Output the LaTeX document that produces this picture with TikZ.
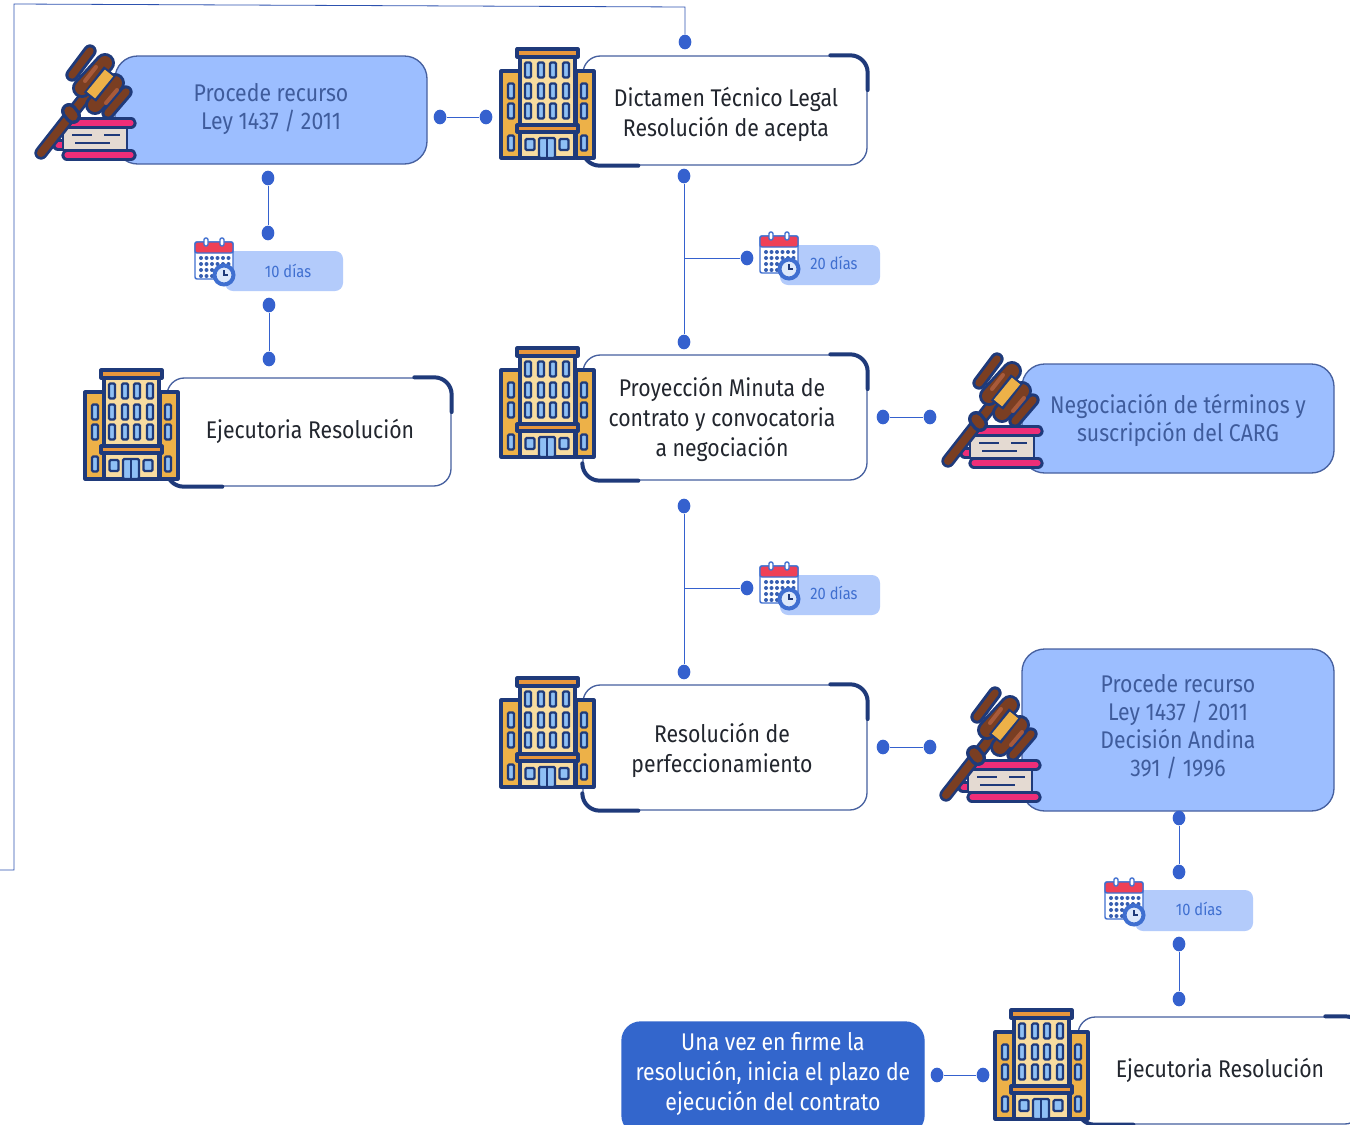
\documentclass[tikz,border=0pt]{standalone}
\usepackage{fontspec}
\usetikzlibrary{shapes.geometric}
\setmainfont[FakeStretch=0.88]{Fira Sans}
\definecolor{navy}{HTML}{1F3A7A}
\definecolor{edge}{HTML}{46609F}
\definecolor{lblue}{HTML}{9CBEFF}
\definecolor{pill}{HTML}{B3CBFB}
\definecolor{dot}{HTML}{3561CE}
\definecolor{dark}{HTML}{3366CC}
\definecolor{gold}{HTML}{EDB148}
\definecolor{cream}{HTML}{F8DCA0}
\definecolor{orng}{HTML}{E8963C}
\definecolor{win}{HTML}{8FC0F5}
\definecolor{brown}{HTML}{7A3E22}
\definecolor{brownl}{HTML}{A85A3A}
\definecolor{pink}{HTML}{EE2E78}
\definecolor{paper}{HTML}{E4DAD2}
\definecolor{calred}{HTML}{EF4056}
\definecolor{calblue}{HTML}{3F6FD0}
\definecolor{clockface}{HTML}{DCE8FB}
\definecolor{ink}{HTML}{22262E}
\definecolor{softink}{HTML}{3F5C9C}
\newcommand{\boxn}[8]{%
  \pgfmathsetmacro{\bxw}{(#5-#3)*0.75}%
  \pgfmathsetmacro{\bxh}{(#6-#4)*0.75}%
  \node[#1,minimum width=\bxw pt,minimum height=\bxh pt] (#2) at ({(#3+#5)/2},{(#4+#6)/2}) {};
  \node[#1,draw=none,fill=none,anchor=center] (#2t) at #7 {#8};
}
\newcommand{\markcorners}[1]{%
  \draw[accentline] ([xshift=-28pt]#1.north east) -- ([xshift=-13pt]#1.north east) arc[start angle=90,end angle=0,radius=13pt] -- ([yshift=-26pt]#1.north east);
  \draw[accentline] ([yshift=13pt]#1.south west) arc[start angle=180,end angle=270,radius=13pt] -- ([xshift=42pt]#1.south west);
}
\tikzset{
  x=0.75pt,y=-0.75pt,
  bodytext/.style={font=\fontsize{18.1}{22.5}\selectfont,align=center,inner sep=0pt,text=ink},
  whitebox/.style={bodytext,draw=edge,line width=1pt,fill=white,rounded corners=13pt},
  bluebox/.style={bodytext,font=\fontsize{18.1}{21}\selectfont,text=softink,draw=edge,line width=1pt,fill=lblue,rounded corners=17pt},
  darkbox/.style={bodytext,text=white,draw=dark,line width=1pt,fill=dark,rounded corners=14pt},
  pillbox/.style={font=\fontsize{12.5}{15}\selectfont,text=calblue,fill=pill,rounded corners=6pt,inner sep=0pt},
  accentline/.style={draw=navy,line width=3pt,line cap=round},
  dotn/.style={ellipse,fill=dot,inner sep=0pt,minimum width=9.5pt,minimum height=11pt},
  conn/.style={draw=dot,line width=0.7pt},
  thinline/.style={draw=dot!85!black,line width=0.6pt},
  winb/.style={draw=navy,line width=1.7pt,fill=win,rounded corners=1pt},
  bldg/.style={draw=navy,line width=2.4pt,line join=round},
  pics/edificio/.style={code={
    \draw[bldg,fill=gold] (1,23) rectangle (20,110);
    \draw[bldg,fill=gold] (76,23) rectangle (94,110);
    \draw[bldg,fill=cream] (20,9) rectangle (75,110);
    \draw[bldg,fill=orng] (17,1) rectangle (78,9);
    \draw[bldg,fill=orng] (17,77) rectangle (78,84);
    \foreach \cx in {28,41,53,66}{\foreach \cy in {22,43,63}{
      \draw[winb] (\cx-3,\cy-7.5) rectangle (\cx+3,\cy+7.5);}}
    \foreach \cx in {11,84}{\foreach \cy in {43,63,95}{
      \draw[winb] (\cx-3,\cy-7.5) rectangle (\cx+3,\cy+7.5);}}
    \foreach \cx in {30,64}{\draw[winb] (\cx-4.5,91) rectangle (\cx+4.5,102);}
    \draw[winb] (39,90) rectangle (55,110);
    \draw[navy,line width=1pt] (47,90) -- (47,110);
  }},
  pics/mazo/.style={code={
    \draw[navy,line width=9pt,line cap=round] (58,145) -- (62,145);
    \draw[pink,line width=4pt,line cap=round] (58,145) -- (62,145);
    \draw[navy,line width=2.2pt,fill=paper] (63,127) rectangle (127,150);
    \draw[navy,line width=2pt] (72,135) -- (92,135) (104,135) -- (120,135) (75,143) -- (110,143);
    \draw[navy,line width=8.5pt,line cap=round] (65,123) -- (131,123);
    \draw[pink,line width=3.8pt,line cap=round] (65,123) -- (131,123);
    \draw[navy,line width=8.5pt,line cap=round] (67,155) -- (131,155);
    \draw[pink,line width=3.8pt,line cap=round] (67,155) -- (131,155);
    \draw[navy,line width=10pt,line cap=round] (41,153) -- (88,93);
    \draw[brown,line width=6pt,line cap=round] (41,153) -- (88,93);
    \draw[navy,line width=12pt,line cap=round] (69,111) -- (73,116);
    \draw[brown,line width=7pt,line cap=round] (69,111) -- (73,116);
    \foreach \ax/\ay/\bx/\by in {90/51/72/75, 126/92/108/113}{
      \draw[navy,line width=10pt,line cap=round] (\ax,\ay) -- (\bx,\by);
      \draw[brown,line width=5.5pt,line cap=round] (\ax,\ay) -- (\bx,\by);}
    \foreach \ax/\ay/\bx/\by in {105/63/82/88, 115/83/95/105}{
      \draw[navy,line width=15pt,line cap=round] (\ax,\ay) -- (\bx,\by);
      \draw[brown,line width=10.5pt,line cap=round] (\ax,\ay) -- (\bx,\by);}
    \draw[brownl,line width=3pt,line cap=round] (96,67) -- (85,81);
    \draw[brownl,line width=3pt,line cap=round] (117,90) -- (106,103);
    \draw[navy,line width=11.5pt] (110,71) -- (90,97);
    \draw[gold,line width=8pt] (109,73) -- (91,95);
  }},
  pics/calendario/.style={code={
    \draw[calblue,line width=1.1pt,fill=white,rounded corners=1.5pt] (0,4) rectangle (38,41);
    \draw[calblue,line width=1.1pt,fill=calred,rounded corners=1.5pt] (0,4) rectangle (38,15);
    \foreach \cx in {11,27}{\draw[calblue,line width=1pt,fill=white,rounded corners=1pt] (\cx-2,0) rectangle (\cx+2,8);}
    \foreach \cx in {6,11.5,17,22.5,28,33.5}{\foreach \cy in {20,26,32,38}{
      \fill[calblue!85!black] (\cx,\cy) circle[radius=2];}}
    \draw[calblue,line width=3pt,fill=clockface] (29,37) circle[radius=9.5];
    \draw[navy,line width=0.9pt] (29,32) -- (29,37) -- (33,37);
  }},
}
\begin{document}
\begin{tikzpicture}
\clip (0,0) rectangle (1350,1125);
\boxn{bluebox}{b1}{115}{56}{427}{164}{(271,109.5)}{Procede recurso\\Ley 1437 / 2011}
\boxn{whitebox}{w1}{583}{56}{867}{165}{(726,114.5)}{Dictamen Técnico Legal\\Resolución de acepta}
\boxn{whitebox}{w2}{167}{378}{451}{486}{(310,431)}{Ejecutoria Resolución}
\boxn{whitebox}{w3}{583}{355}{867}{480}{(722,419.5)}{Proyección Minuta de\\contrato y convocatoria\\a negociación}
\boxn{bluebox}{b2}{1022}{364}{1334}{473}{(1178,420.5)}{Negociación de términos y\\suscripción del CARG}
\boxn{whitebox}{w4}{583}{685}{867}{810}{(722,750)}{Resolución de\\perfeccionamiento}
\boxn{bluebox}{b3}{1022}{649}{1334}{811}{(1178,727)}{Procede recurso\\Ley 1437 / 2011\\Decisión Andina\\391 / 1996}
\boxn{whitebox}{w5}{1078}{1017}{1362}{1124}{(1220,1070.5)}{Ejecutoria Resolución}
\boxn{darkbox}{d1}{622}{1022}{924}{1134}{(773,1074)}{Una vez en firme la\\resolución, inicia el plazo de\\ejecución del contrato}
\markcorners{w1}\markcorners{w2}\markcorners{w3}\markcorners{w4}\markcorners{w5}
\boxn{pillbox}{p1}{225}{251}{343}{291}{(288,271)}{10 días}
\boxn{pillbox}{p2}{780}{245}{880}{285}{(834,263)}{20 días}
\boxn{pillbox}{p3}{780}{575}{880}{615}{(834,593)}{20 días}
\boxn{pillbox}{p4}{1135}{890}{1253}{931}{(1199,909)}{10 días}
\pic at (500,48) {edificio};
\pic at (500,347) {edificio};
\pic at (500,677) {edificio};
\pic at (84,369) {edificio};
\pic at (994,1009) {edificio};
\pic at (0,0) {mazo};
\pic at (907,308) {mazo};
\pic at (905,642) {mazo};
\pic at (760,232) {calendario};
\pic at (760,562) {calendario};
\pic at (195,238) {calendario};
\pic at (1105,878) {calendario};
\foreach \n/\x/\y in {a1/440/117,a2/486/117,a3/268/178,a4/268/233,a5/269/305,a6/269/359,
  a7/684/176,a8/684/342,a9/747/258,a10/883/417,a11/930/417,a12/684/506,a13/684/672,a14/747/588,
  a15/883/747,a16/930/747,a17/1179/818,a18/1179/872,a19/1179/944,a20/1179/999,a21/937/1075,a22/983/1075,a23/685/42}
  {\node[dotn] (\n) at (\x,\y) {};}
\coordinate (j1) at (684,258);
\coordinate (j2) at (684,588);
\coordinate (f1) at (685,7);
\coordinate (f2) at (14,4);
\coordinate (f3) at (14,870);
\coordinate (f4) at (0,870);
\foreach \p/\q in {a1/a2,a3/a4,a5/a6,a7/a8,j1/a9,a10/a11,a12/a13,j2/a14,a15/a16,a17/a18,a19/a20,a21/a22}
  {\draw[conn] (\p) -- (\q);}
\draw[thinline] (a23) -- (f1) -- (f2) -- (f3) -- (f4);
\end{tikzpicture}
\end{document}
